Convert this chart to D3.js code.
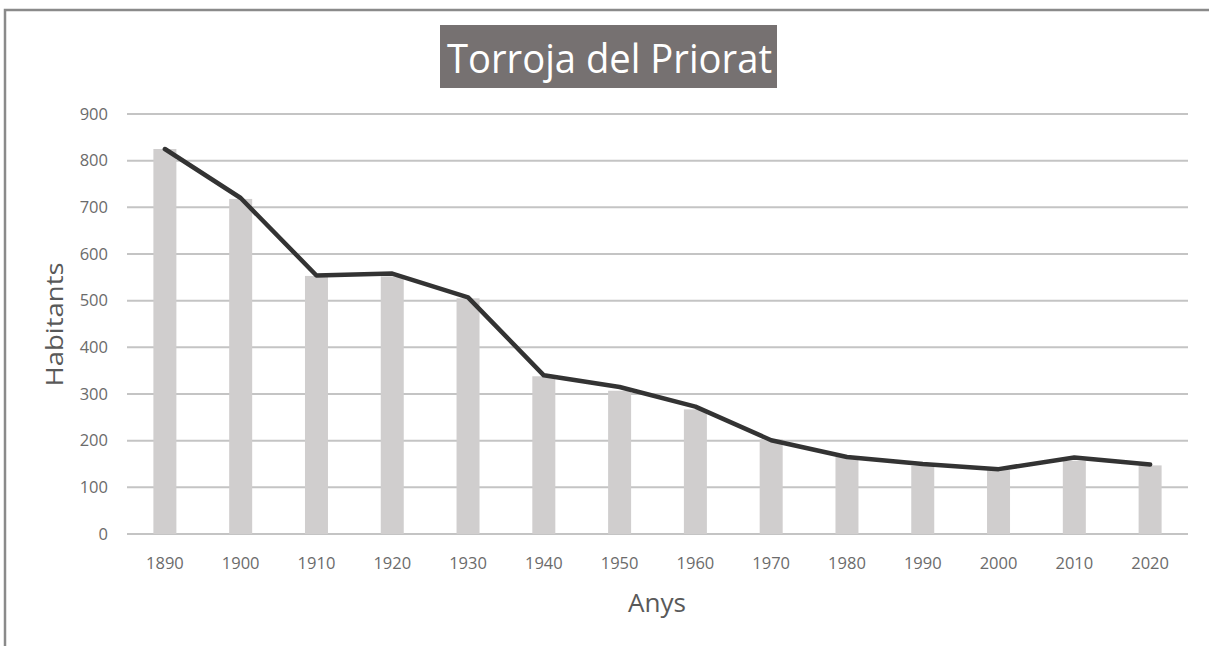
<!DOCTYPE html>
<html><head><meta charset="utf-8">
<script src="https://cdn.jsdelivr.net/npm/d3@7"></script>
<style>html,body{margin:0;padding:0;background:#fff;}svg{display:block;}</style>
</head><body>
<svg id="chart" width="1209" height="646"></svg>
<script>
const years = ["1890","1900","1910","1920","1930","1940","1950","1960","1970","1980","1990","2000","2010","2020"];
const barValues = [825, 718, 553, 552, 505, 338, 307, 267, 203, 165, 146, 137, 157, 147];
const lineValues = [825, 720, 554, 558, 507, 340, 315, 273, 201, 165, 150, 139, 164, 149];
const yTicks = [0,100,200,300,400,500,600,700,800,900];
const titleText = "Torroja del Priorat";
const yLabel = "Habitants";
const xLabel = "Anys";

(function(){
const svg = d3.select("#chart");
const W = 1209, H = 646;
const font = "'Open Sans', 'Noto Sans', sans-serif";

// frame
svg.append("path").attr("d", `M5,${H} L5,10 L${W},10`).attr("fill","none").attr("stroke","#8a8a8a").attr("stroke-width",2.5);

const pl = 127, pr = 1188, pt = 114, pb = 534;
const x = d3.scaleBand().domain(years).range([pl, pr]).paddingInner(0.68).paddingOuter(0.34);
const y = d3.scaleLinear().domain([0, 900]).range([pb, pt]);

// gridlines
svg.append("g").selectAll("line").data(yTicks).join("line")
  .attr("x1", pl).attr("x2", pr)
  .attr("y1", d => y(d)).attr("y2", d => y(d))
  .attr("stroke", "#c4c4c4").attr("stroke-width", 2);

// y axis labels
const yAxis = d3.axisLeft(y).tickValues(yTicks).tickSize(0).tickPadding(0);
const gy = svg.append("g").attr("transform", `translate(${pl-19},0)`).call(yAxis);
gy.select(".domain").remove();
gy.selectAll("text").attr("font-family", font).attr("font-size", 16.5).attr("fill", "#6b6b6b");

// bars
svg.append("g").selectAll("rect").data(years).join("rect")
  .attr("x", d => x(d) + x.bandwidth()/2 - 11.5)
  .attr("width", 23)
  .attr("y", (d,i) => y(barValues[i]))
  .attr("height", (d,i) => pb - y(barValues[i]))
  .attr("fill", "#d0cece");

// line
const line = d3.line().x((d,i) => x(years[i]) + x.bandwidth()/2).y(d => y(d));
svg.append("path").datum(lineValues).attr("d", line)
  .attr("fill", "none").attr("stroke", "#333333").attr("stroke-width", 4.5)
  .attr("stroke-linejoin", "round").attr("stroke-linecap", "round");

// x axis labels
const xAxis = d3.axisBottom(x).tickSize(0).tickPadding(0);
const gx = svg.append("g").attr("transform", `translate(0,${pb+23})`).call(xAxis);
gx.select(".domain").remove();
gx.selectAll("text").attr("font-family", font).attr("font-size", 16.5).attr("fill", "#6b6b6b");

// axis titles
svg.append("text").attr("x", 657).attr("y", 612).attr("text-anchor","middle")
  .attr("font-family", font).attr("font-size", 25).attr("fill", "#595959")
  .attr("textLength", 58).attr("lengthAdjust", "spacingAndGlyphs").text(xLabel);
svg.append("text").attr("transform", "translate(63,324.5) rotate(-90)").attr("text-anchor","middle")
  .attr("font-family", font).attr("font-size", 24).attr("fill", "#595959")
  .attr("textLength", 124).attr("lengthAdjust", "spacingAndGlyphs").text(yLabel);

// title
svg.append("rect").attr("x", 440).attr("y", 25).attr("width", 337).attr("height", 63).attr("fill", "#767171");
svg.append("text").attr("x", 447).attr("y", 73)
  .attr("font-family", font).attr("font-size", 41).attr("fill", "#fff")
  .attr("textLength", 325).attr("lengthAdjust", "spacingAndGlyphs").text(titleText);
})();
</script>
</body></html>
